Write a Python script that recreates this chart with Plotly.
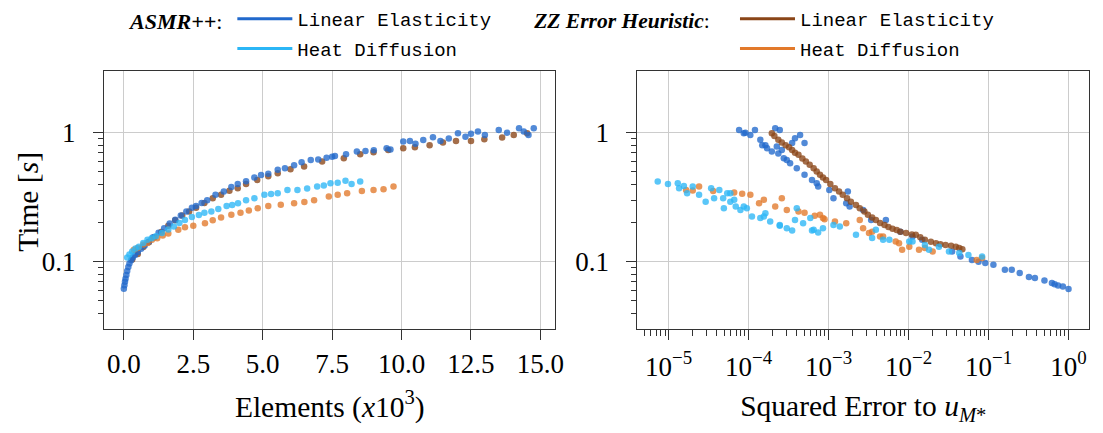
import plotly.graph_objects as go

# ---------------- data: left panel (elements x10^3 vs time [s]) ----------------
asmr_le_elems = [0.0, 0.02, 0.04, 0.06, 0.09, 0.12, 0.16, 0.2, 0.26, 0.32, 0.4, 0.5, 0.62, 0.75, 0.9, 1.05,
                 1.25, 1.45, 1.65, 1.85, 2.05, 2.25, 2.45, 2.6, 2.8, 3.0, 3.3, 3.6, 3.87, 4.1, 4.4, 4.7, 4.94,
                 5.2, 5.54, 5.8, 6.13, 6.4, 6.73, 7.0, 7.3, 7.5, 7.6, 8.0, 8.39, 8.7, 9.0, 9.46, 9.6, 10.06,
                 10.3, 10.5, 10.78, 11.13, 11.4, 11.7, 12.03, 12.3, 12.5, 12.75, 13.0, 13.5, 13.8, 14.23,
                 14.4, 14.57, 14.76]
asmr_le_time = [0.062, 0.066, 0.070, 0.074, 0.079, 0.085, 0.091, 0.097, 0.103, 0.108, 0.113, 0.119, 0.126,
                0.134, 0.143, 0.155, 0.168, 0.182, 0.198, 0.212, 0.228, 0.245, 0.262, 0.27, 0.285, 0.3, 0.33,
                0.35, 0.38, 0.4, 0.42, 0.45, 0.47, 0.48, 0.515, 0.53, 0.56, 0.59, 0.615, 0.62, 0.64, 0.652,
                0.66, 0.68, 0.713, 0.72, 0.73, 0.757, 0.74, 0.852, 0.86, 0.82, 0.878, 0.92, 0.86, 0.9, 0.99,
                0.93, 0.98, 1.02, 0.96, 1.05, 1.0, 1.08, 1.02, 0.96, 1.08]

zz_le_elems = [0.3, 0.5, 0.7, 0.9, 1.1, 1.35, 1.6, 1.85, 2.1, 2.35, 2.6, 2.9, 3.2, 3.5, 3.8, 4.1, 4.4, 4.8,
               5.2, 5.54, 6.0, 6.49, 7.14, 7.92, 8.51, 8.99, 9.52, 10.06, 10.48, 11.01, 11.49, 11.96, 12.5,
               12.98, 13.62, 14.04, 14.52]
zz_le_time = [0.104, 0.115, 0.13, 0.142, 0.155, 0.17, 0.19, 0.21, 0.228, 0.245, 0.262, 0.285, 0.31, 0.33,
              0.355, 0.371, 0.4, 0.43, 0.46, 0.485, 0.52, 0.546, 0.597, 0.634, 0.68, 0.705, 0.735, 0.757,
              0.77, 0.8, 0.84, 0.86, 0.86, 0.89, 0.915, 0.96, 0.99]

asmr_hd_elems = [0.12, 0.2, 0.3, 0.42, 0.54, 0.7, 0.85, 1.0, 1.15, 1.37, 1.6, 1.8, 2.0, 2.2, 2.45, 2.7, 2.9,
                 3.15, 3.4, 3.7, 3.9, 4.11, 4.4, 4.7, 5.06, 5.3, 5.54, 5.89, 6.25, 6.6, 6.96, 7.2, 7.44, 7.7,
                 7.98, 8.2, 8.51]
asmr_hd_time = [0.108, 0.114, 0.12, 0.127, 0.131, 0.14, 0.148, 0.152, 0.158, 0.167, 0.178, 0.188, 0.2, 0.211,
                0.222, 0.23, 0.24, 0.245, 0.256, 0.27, 0.275, 0.284, 0.3, 0.31, 0.33, 0.335, 0.34, 0.36, 0.36,
                0.37, 0.382, 0.39, 0.406, 0.41, 0.425, 0.40, 0.418]

zz_hd_elems = [0.36, 0.5, 0.7, 0.85, 1.01, 1.2, 1.4, 1.6, 1.96, 2.2, 2.5, 2.92, 3.2, 3.5, 3.87, 4.2, 4.5,
               4.82, 5.2, 5.65, 6.13, 6.5, 6.85, 7.38, 7.7, 8.04, 8.57, 8.99, 9.35, 9.71]
zz_hd_time = [0.124, 0.128, 0.136, 0.14, 0.148, 0.152, 0.16, 0.166, 0.177, 0.185, 0.19, 0.199, 0.21, 0.22,
              0.231, 0.24, 0.25, 0.26, 0.27, 0.276, 0.284, 0.29, 0.30, 0.32, 0.33, 0.34, 0.354, 0.36, 0.365,
              0.382]

# ---------------- data: right panel (squared error vs time [s]) ----------------
asmr_le_err = [7.6e-5, 8.7e-5, 9.1e-5, 1.05e-4, 1.2e-4, 1.4e-4, 1.48e-4, 1.62e-4, 1.7e-4, 1.95e-4, 2.35e-4,
               2.75e-4, 3.0e-4, 3.3e-4, 4.0e-4, 5.0e-4, 6.2e-4, 7.1e-4, 7.4e-4, 1.02e-3, 1.15e-3, 1.66e-3,
               1.74e-3, 1.83e-3, 2.7e-3, 3.4e-3, 5.2e-3, 2.15e-4, 2.45e-4, 3.5e-4, 3.8e-4, 4.4e-4, 5.0e-4,
               2.6e-4, 2.25e-4, 7.9e-3, 1.12e-2, 1.48e-2, 3.5e-2, 4.45e-2, 6.2e-2, 7.5e-2, 9.1e-2, 0.115,
               0.16, 0.195, 0.245, 0.32, 0.38, 0.5, 0.62, 0.67, 0.74, 0.85, 1.0]
asmr_le_rtime = [1.05, 0.99, 1.0, 0.96, 1.05, 0.88, 0.80, 0.80, 0.757, 0.713, 0.69, 0.634, 0.615, 0.58, 0.53,
                 0.471, 0.43, 0.406, 0.382, 0.36, 0.311, 0.284, 0.35, 0.268, 0.252, 0.211, 0.211, 1.08, 1.05,
                 0.83, 0.905, 0.96, 0.83, 0.735, 0.78, 0.171, 0.157, 0.148, 0.12, 0.11, 0.1035, 0.1, 0.098,
                 0.095, 0.0867, 0.0867, 0.0818, 0.0762, 0.0748, 0.0716, 0.0684, 0.0671, 0.0656, 0.0644, 0.0615]

zz_le_err = [1.95e-4, 2.1e-4, 2.35e-4, 2.6e-4, 2.9e-4, 3.2e-4, 3.5e-4, 3.8e-4, 4.2e-4, 4.7e-4, 5.2e-4,
             5.8e-4, 6.5e-4, 7.1e-4, 7.8e-4, 8.5e-4, 9.3e-4, 1.05e-3, 1.2e-3, 1.35e-3, 1.5e-3, 1.7e-3, 1.9e-3,
             2.2e-3, 2.45e-3, 2.8e-3, 3.1e-3, 3.5e-3, 3.9e-3, 4.4e-3, 5.0e-3, 5.6e-3, 6.3e-3, 7.1e-3, 7.9e-3,
             9.3e-3, 1.1e-2, 1.23e-2, 1.4e-2, 1.6e-2, 1.9e-2, 2.2e-2, 2.5e-2, 2.9e-2, 3.4e-2, 3.9e-2, 4.3e-2,
             4.7e-2]
zz_le_rtime = [0.99, 0.94, 0.88, 0.84, 0.80, 0.77, 0.735, 0.70, 0.673, 0.63, 0.597, 0.565, 0.53, 0.50, 0.471,
               0.45, 0.43, 0.40, 0.371, 0.35, 0.33, 0.31, 0.292, 0.275, 0.26, 0.245, 0.231, 0.22, 0.211, 0.2,
               0.193, 0.186, 0.18, 0.176, 0.171, 0.167, 0.163, 0.162, 0.155, 0.148, 0.143, 0.139, 0.137,
               0.135, 0.133, 0.131, 0.128, 0.125]

asmr_hd_err = [7.3e-6, 9.8e-6, 1.3e-5, 1.35e-5, 1.55e-5, 1.7e-5, 2.0e-5, 2.4e-5, 2.9e-5, 3.4e-5, 3.7e-5,
               4.3e-5, 4.8e-5, 4.9e-5, 5.4e-5, 5.9e-5, 5.9e-5, 6.6e-5, 6.9e-5, 7.9e-5, 8.7e-5, 9.5e-5, 1.1e-4,
               1.4e-4, 1.55e-4, 1.62e-4, 1.86e-4, 2.45e-4, 2.45e-4, 3.0e-4, 3.5e-4, 3.8e-4, 4.0e-4, 4.8e-4,
               5.9e-4, 6.2e-4, 6.5e-4, 7.4e-4, 8.5e-4, 1.15e-3, 1.38e-3, 2.2e-3, 3.5e-3, 3.9e-3, 4.8e-3,
               5.75e-3, 1.02e-2, 1.12e-2, 1.6e-2, 1.8e-2, 2.4e-2, 3.2e-2, 4.3e-2, 5.6e-2, 8.3e-2]
asmr_hd_rtime = [0.418, 0.40, 0.406, 0.371, 0.387, 0.34, 0.382, 0.33, 0.292, 0.371, 0.311, 0.36, 0.311,
                 0.26, 0.34, 0.292, 0.34, 0.302, 0.268, 0.252, 0.268, 0.26, 0.224, 0.218, 0.224, 0.238, 0.205,
                 0.19, 0.193, 0.182, 0.175, 0.211, 0.26, 0.199, 0.218, 0.175, 0.177, 0.169, 0.182, 0.193,
                 0.1875, 0.162, 0.153, 0.177, 0.148, 0.148, 0.1435, 0.1435, 0.135, 0.124, 0.131, 0.12, 0.117,
                 0.113, 0.11]

zz_hd_err = [1.65e-5, 2.0e-5, 2.4e-5, 3.6e-5, 6.6e-5, 8.3e-5, 1.05e-4, 1.35e-4, 1.55e-4, 2.15e-4, 2.6e-4,
             3.0e-4, 4.2e-4, 5.0e-4, 6.7e-4, 7.8e-4, 8.5e-4, 8.9e-4, 1.2e-3, 1.66e-3, 2.45e-3, 2.7e-3, 3.2e-3,
             3.5e-3, 4.4e-3, 4.8e-3, 6.9e-3, 7.6e-3, 8.3e-3, 1.02e-2, 1.35e-2, 1.6e-2, 2.0e-2, 7.1e-2, 8.3e-2]
zz_hd_rtime = [0.36, 0.356, 0.382, 0.354, 0.344, 0.336, 0.33, 0.284, 0.302, 0.268, 0.311, 0.252, 0.245,
               0.24, 0.227, 0.231, 0.218, 0.214, 0.205, 0.199, 0.211, 0.182, 0.167, 0.171, 0.157, 0.157,
               0.1435, 0.139, 0.124, 0.131, 0.124, 0.128, 0.120, 0.1035, 0.107]

# ---------------- labels ----------------
series_names = ["Linear Elasticity", "Heat Diffusion"]
group_titles = ["<b><i>ASMR++</i></b>:", "<b><i>ZZ Error Heuristic</i></b>:\u00a0\u00a0\u00a0"]
elem_ticks = [0.0, 2.5, 5.0, 7.5, 10.0, 12.5, 15.0]
time_ticks = [0.1, 1]
time_ticktext = ["0.1", "1"]
time_minor = [0.04, 0.05, 0.06, 0.07, 0.08, 0.09, 0.2, 0.3, 0.4, 0.5, 0.6, 0.7, 0.8, 0.9]
err_exponents = [-5, -4, -3, -2, -1, 0]
err_ticks = [10.0 ** e for e in err_exponents]
err_ticktext = [f"10<sup>{'−' if e < 0 else ''}{abs(e)}</sup>" for e in err_exponents]
err_minor = [m * 10.0 ** e for e in [-6, -5, -4, -3, -2, -1] for m in range(2, 10)]

C_BLUE = "#2169cc"
C_LBLUE = "#2bb6f6"
C_BROWN = "#8a4517"
C_ORANGE = "#e2792a"

SERIF = "Liberation Serif"
MONO = "Liberation Mono"
TICK_SIZE = 27
TITLE_SIZE = 29.5

fig = go.Figure()

def pts(x, y, color, xa, ya):
    fig.add_trace(go.Scatter(x=x, y=y, mode="markers", xaxis=xa, yaxis=ya, showlegend=False,
                             marker=dict(size=6.5, color=color, opacity=0.78, line=dict(width=0))))

pts(zz_le_elems, zz_le_time, C_BROWN, "x", "y")
pts(asmr_le_elems, asmr_le_time, C_BLUE, "x", "y")
pts(zz_hd_elems, zz_hd_time, C_ORANGE, "x", "y")
pts(asmr_hd_elems, asmr_hd_time, C_LBLUE, "x", "y")

pts(asmr_le_err, asmr_le_rtime, C_BLUE, "x2", "y2")
pts(zz_le_err, zz_le_rtime, C_BROWN, "x2", "y2")
pts(zz_hd_err, zz_hd_rtime, C_ORANGE, "x2", "y2")
pts(asmr_hd_err, asmr_hd_rtime, C_LBLUE, "x2", "y2")

# legend entries (line samples)
for leg, colors in (("legend", (C_BLUE, C_LBLUE)), ("legend2", (C_BROWN, C_ORANGE))):
    for i, (name, col) in enumerate(zip(series_names, colors)):
        fig.add_trace(go.Scatter(x=[None], y=[None], mode="lines", name=name, legend=leg,
                                 legendgroup=leg + str(i), line=dict(color=col, width=3)))

axis_common = dict(showline=True, linecolor="#333333", linewidth=1.3, mirror=True,
                   showgrid=True, gridcolor="#cccccc", gridwidth=1.2, zeroline=False,
                   ticks="outside", tickcolor="#333333", ticklen=10, tickwidth=1.2,
                   tickfont=dict(family=SERIF, size=TICK_SIZE, color="black"))

yaxis_common = dict(axis_common, type="log", range=[-1.52, 0.477], tickmode="array",
                    tickvals=time_ticks, ticktext=time_ticktext, ticklabelstandoff=12,
                    minor=dict(tickmode="array", tickvals=time_minor, ticks="outside", ticklen=5,
                               tickcolor="#333333", tickwidth=1, showgrid=False))

legend_common = dict(orientation="v", yanchor="top", xanchor="left", y=1.0,
                     bgcolor="rgba(0,0,0,0)", font=dict(family=MONO, size=19, color="black"),
                     tracegroupgap=2, itemwidth=55, traceorder="grouped")

fig.update_layout(
    width=1103, height=433,
    margin=dict(l=0, r=0, t=0, b=0),
    paper_bgcolor="white", plot_bgcolor="white",
    xaxis=dict(axis_common, domain=[0.0952, 0.5077], range=[-0.71, 15.54], tickmode="array",
               tickvals=elem_ticks, ticktext=[f"{v:.1f}" for v in elem_ticks], anchor="y",
               ticklabelstandoff=0,
               title=dict(text="Elements (<i>x</i>10<sup>3</sup>)",
                          font=dict(family=SERIF, size=TITLE_SIZE, color="black"), standoff=18)),
    yaxis=dict(yaxis_common, domain=[0.2402, 0.836], anchor="x"),
    xaxis2=dict(axis_common, domain=[0.5827, 0.9955], type="log", range=[-5.39, 0.257], anchor="y2",
                tickmode="array", tickvals=err_ticks, ticktext=err_ticktext, ticklabelstandoff=3,
                minor=dict(tickmode="array", tickvals=err_minor, ticks="outside", ticklen=6,
                           tickcolor="#333333", tickwidth=1, showgrid=False),
                title=dict(text="Squared Error to <i>u</i><sub><i>M</i>*</sub>",
                           font=dict(family=SERIF, size=TITLE_SIZE, color="black"), standoff=14)),
    yaxis2=dict(yaxis_common, domain=[0.2402, 0.836], anchor="x2"),
    legend=dict(legend_common, x=0.117,
                title=dict(text=group_titles[0], side="left", font=dict(family=SERIF, size=22, color="black"))),
    legend2=dict(legend_common, x=0.4865,
                 title=dict(text=group_titles[1], side="left", font=dict(family=SERIF, size=21.5, color="black"))),
    annotations=[dict(text="Time [<i>s</i>]", textangle=-90, xref="paper", yref="paper",
                      x=28 / 1103, y=1 - 202 / 433, xanchor="center", yanchor="middle", showarrow=False,
                      font=dict(family=SERIF, size=TITLE_SIZE, color="black"))],
)

fig.write_html("out.html")
